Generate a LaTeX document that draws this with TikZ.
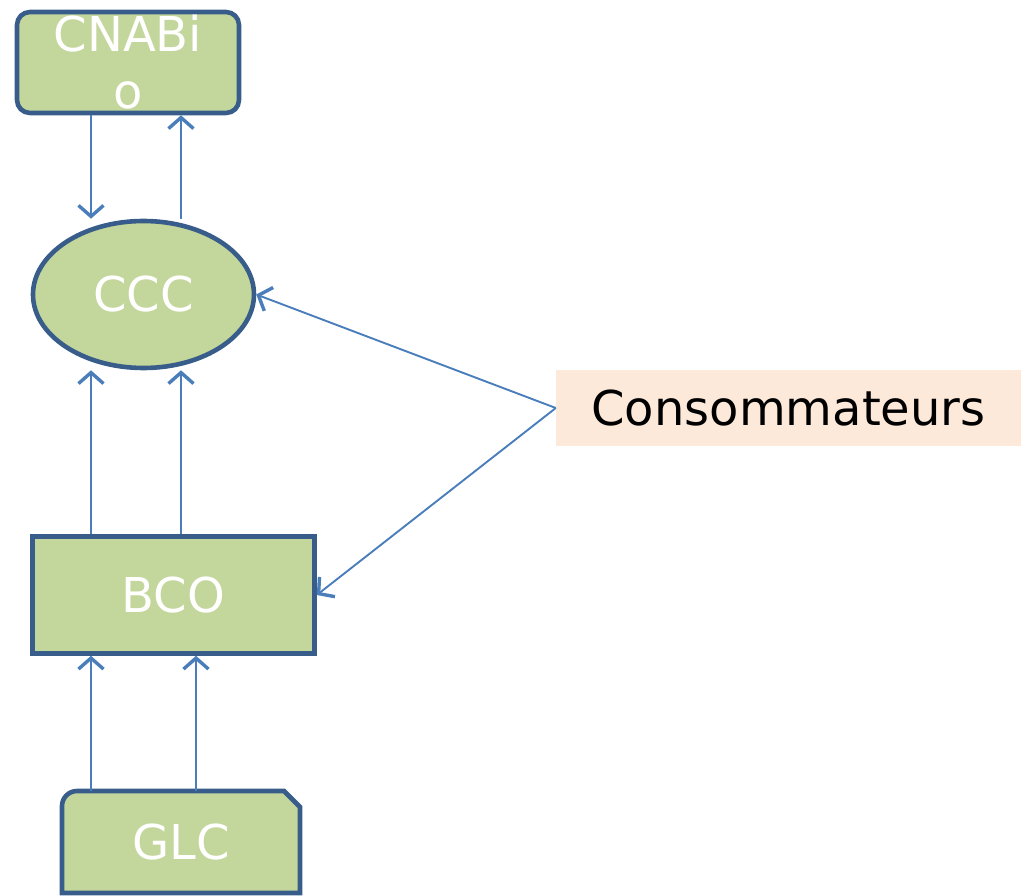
\documentclass[tikz,border=0pt]{standalone}
\usepackage{fontspec}
\setmainfont{DejaVu Sans}
\usetikzlibrary{arrows.meta,shapes.geometric}
\definecolor{boxfill}{HTML}{C3D69B}
\definecolor{boxline}{HTML}{385D8A}
\definecolor{arrline}{HTML}{4A7EBB}
\definecolor{peach}{HTML}{FDE9D9}
\begin{document}
\begin{tikzpicture}[x=1pt,y=-1pt,
  shp/.style={fill=boxfill,draw=boxline,line width=4.6pt,text=white,
    font=\fontsize{48}{57}\selectfont,inner sep=0pt},
  arr/.style={draw=arrline,line width=1.9pt,
    -{Straight Barb[length=11pt,width=25pt,line width=3.4pt]}}]
\useasboundingbox (0,0) rectangle (1021,896);
% CNABio
\node[shp,rectangle,rounded corners=13pt,minimum width=222pt,minimum height=101pt,align=center]
  (cnabio) at (128,62.5) {CNABi\\o};
% CCC
\node[shp,ellipse,minimum width=221pt,minimum height=147pt] (ccc) at (143.5,294.5) {CCC};
% BCO
\node[shp,rectangle,minimum width=282pt,minimum height=117pt] (bco) at (173.5,595) {BCO};
% GLC (rounded top-left, snipped top-right)
\path[fill=boxfill,draw=boxline,line width=4.6pt]
  (62,893) -- (62,806) arc[start angle=180,end angle=270,radius=15] -- (284,791) -- (300,807) -- (300,893) -- cycle;
\node[text=white,font=\fontsize{48}{57}\selectfont,inner sep=0pt,minimum width=238pt,minimum height=102pt]
  (glc) at (181,842) {GLC};
% Consommateurs
\node[fill=peach,inner sep=0pt,minimum width=465pt,minimum height=76pt,
  font=\fontsize{48}{57}\selectfont,text=black] (cons) at (788.5,408) {Consommateurs};
% connectors
\draw[arr] (cnabio.south -| 91,0) -- (ccc.north -| 91,0);
\draw[arr] (ccc.north -| 181,0) -- (cnabio.south -| 181,0);
\draw[arr] (bco.north -| 91,0) -- (ccc.south -| 91,0);
\draw[arr] (bco.north -| 181,0) -- (ccc.south -| 181,0);
\draw[arr] (glc.north -| 91,0) -- (bco.south -| 91,0);
\draw[arr] (glc.north -| 196,0) -- (bco.south -| 196,0);
\draw[arr] (cons.west) -- (ccc.east);
\draw[arr] (cons.west) -- (bco.east);
\end{tikzpicture}
\end{document}
